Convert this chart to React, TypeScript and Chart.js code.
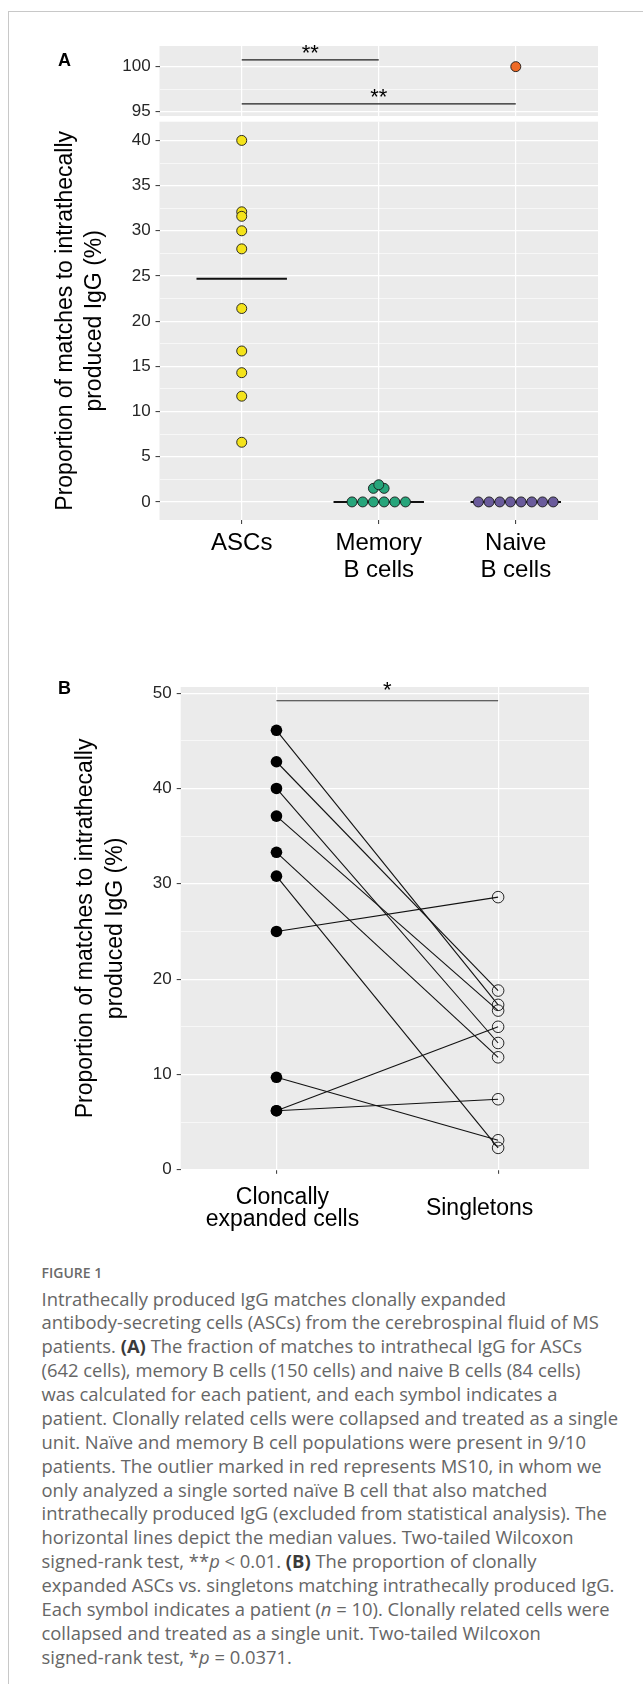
import React, { useEffect, useRef } from 'react';
import { Chart, registerables } from 'chart.js';

Chart.register(...registerables);

const SANS = '"Liberation Sans", Arial, Helvetica, sans-serif';
const CAPTION_FONT = '"Open Sans", "Noto Sans", sans-serif';

// ---------------- Panel A data ----------------
const categoriesA: (string | string[])[] = ['ASCs', ['Memory', 'B cells'], ['Naive', 'B cells']];
const ascValues = [40.0, 32.1, 31.6, 30.0, 28.0, 21.4, 16.7, 14.3, 11.7, 6.6];
const memoryValues = [1.5, 1.5, 1.9, 0, 0, 0, 0, 0, 0];
const naiveValues = [0, 0, 0, 0, 0, 0, 0, 0];
const naiveOutlierValues = [100];
const mediansA = [24.7, 0, 0];
const bracketFromA = [1, 1];
const bracketToA = [2, 3];
const bracketYA = [100.75, 95.85];
const bracketLabelA = ['**', '**'];

// ---------------- Panel B data ----------------
const categoriesB: string[][] = [['Cloncally', 'expanded cells'], ['Singletons']];
const clonalValues = [46.1, 42.8, 40.0, 37.1, 33.3, 30.8, 25.0, 9.7, 6.2, 6.2];
const singletonValues = [17.3, 18.8, 13.3, 16.7, 11.8, 2.3, 28.6, 3.1, 15.0, 7.4];
const bracketYB = 49.2;
const bracketLabelB = '*';

// ---------------- styling ----------------
const YELLOW = '#F4E31B';
const GREEN = '#27A57B';
const PURPLE = '#6A5B9B';
const ORANGE = '#EE6A26';
const OUTLINE = '#1a1a1a';
const TICK_MARK = '#333333';
const TICK_LABEL = '#262626';
const DODGE_STEP = 0.078;
const labelShiftB = [6, -18.5];

function dodge(values: number[], center: number, step: number) {
  return values.map((v, i) => {
    const idx: number[] = [];
    values.forEach((w, j) => {
      if (w === v) idx.push(j);
    });
    const k = idx.indexOf(i);
    return { x: center + (k - (idx.length - 1) / 2) * step, y: v };
  });
}

const panelBackground = {
  id: 'panelBackground',
  beforeDraw(chart: any) {
    const { ctx, chartArea } = chart;
    ctx.save();
    ctx.fillStyle = '#EBEBEB';
    ctx.fillRect(chartArea.left, chartArea.top, chartArea.right - chartArea.left, chartArea.bottom - chartArea.top);
    ctx.restore();
  },
};

function starPlugin(items: { from: number; to: number; y: number; label: string }[], size: number, lift: number) {
  return {
    id: 'stars',
    afterDatasetsDraw(chart: any) {
      const { ctx, scales } = chart;
      ctx.save();
      ctx.font = `${size}px ${SANS}`;
      ctx.fillStyle = '#000';
      ctx.textAlign = 'center';
      ctx.textBaseline = 'alphabetic';
      items.forEach((it) => {
        const x = (scales.x.getPixelForValue(it.from) + scales.x.getPixelForValue(it.to)) / 2;
        const y = scales.y.getPixelForValue(it.y) - lift;
        ctx.fillText(it.label, x, y);
      });
      ctx.restore();
    },
  };
}

const isMult = (v: number, m: number) => Math.abs(v / m - Math.round(v / m)) < 1e-6;

function yAxis(min: number, max: number, step: number, major: number, width: number, pad: number, title?: any) {
  return {
    type: 'linear',
    min,
    max,
    afterFit: (s: any) => {
      s.width = width;
    },
    ticks: {
      stepSize: step,
      includeBounds: false,
      autoSkip: false,
      padding: pad,
      color: TICK_LABEL,
      font: { family: SANS, size: 17 },
      callback: (v: any) => (isMult(Number(v), major) ? String(v) : ''),
    },
    grid: {
      color: '#ffffff',
      lineWidth: (c: any) => (c.tick && isMult(c.tick.value, major) ? 1.2 : 0.6),
      drawTicks: true,
      tickLength: 4,
      tickWidth: 1,
      tickColor: (c: any) => (c.tick && isMult(c.tick.value, major) ? TICK_MARK : 'rgba(0,0,0,0)'),
    },
    border: { display: false },
    title: title || { display: false },
  };
}

const baseOptions = (padding: any, scales: any, plugins: any = {}) => ({
  animation: false,
  responsive: false,
  maintainAspectRatio: false,
  events: [],
  layout: { padding },
  plugins: { legend: { display: false }, tooltip: { enabled: false }, ...plugins },
  scales,
});

const pointStyle = (fill: string, r = 5) => ({
  pointRadius: r,
  pointBackgroundColor: fill,
  pointBorderColor: OUTLINE,
  pointBorderWidth: 0.9,
  showLine: false,
});

export default function App() {
  const refA1 = useRef<HTMLCanvasElement>(null);
  const refA2 = useRef<HTMLCanvasElement>(null);
  const refB = useRef<HTMLCanvasElement>(null);

  useEffect(() => {
    const charts: Chart[] = [];

    // ---------- Panel A, upper (broken axis) ----------
    const bracketsA = bracketYA.map((y, i) => ({ from: bracketFromA[i], to: bracketToA[i], y, label: bracketLabelA[i] }));
    charts.push(
      new Chart(refA1.current as HTMLCanvasElement, {
        type: 'scatter',
        data: {
          datasets: [
            { data: naiveOutlierValues.map((v) => ({ x: 3, y: v })), ...pointStyle(ORANGE) } as any,
            ...bracketsA.map((b) => ({
              data: [
                { x: b.from, y: b.y },
                { x: b.to, y: b.y },
              ],
              showLine: true,
              borderColor: '#1f1f1f',
              borderWidth: 1.1,
              pointRadius: 0,
            })),
          ],
        },
        options: baseOptions(
          { left: 0, right: 45, top: 46, bottom: 20 },
          {
            x: {
              type: 'linear',
              min: 0.4,
              max: 3.6,
              afterFit: (s: any) => {
                s.height = 0;
              },
              ticks: { display: false, stepSize: 1, includeBounds: false },
              grid: { color: '#ffffff', lineWidth: 1.2, drawTicks: false },
              border: { display: false },
            },
            y: yAxis(94.5, 102.3, 2.5, 5, 159.5, 4.8),
          }
        ) as any,
        plugins: [panelBackground, starPlugin(bracketsA, 22, 0)],
      })
    );

    // ---------- Panel A, lower ----------
    charts.push(
      new Chart(refA2.current as HTMLCanvasElement, {
        type: 'scatter',
        data: {
          datasets: [
            { data: dodge(ascValues, 1, DODGE_STEP), ...pointStyle(YELLOW) } as any,
            { data: dodge(memoryValues, 2, DODGE_STEP), ...pointStyle(GREEN) },
            { data: dodge(naiveValues, 3, DODGE_STEP), ...pointStyle(PURPLE) },
            ...mediansA.map((m, i) => ({
              data: [
                { x: i + 1 - 0.33, y: m },
                { x: i + 1 + 0.33, y: m },
              ],
              showLine: true,
              borderColor: '#111111',
              borderWidth: 2,
              pointRadius: 0,
            })),
          ],
        },
        options: baseOptions(
          { left: 0, right: 45, top: 21.7, bottom: 0 },
          {
            x: {
              type: 'linear',
              min: 0.4,
              max: 3.6,
              afterFit: (s: any) => {
                s.height = 80;
              },
              ticks: {
                stepSize: 1,
                includeBounds: false,
                autoSkip: false,
                maxRotation: 0,
                minRotation: 0,
                padding: 5.5,
                color: '#000',
                font: { family: SANS, size: 24, lineHeight: '27px' },
                callback: (v: any) => categoriesA[Math.round(Number(v)) - 1] ?? '',
              },
              grid: { color: '#ffffff', lineWidth: 1.2, drawTicks: true, tickLength: 4, tickColor: TICK_MARK, tickWidth: 1 },
              border: { display: false },
            },
            y: yAxis(-2, 42.07, 2.5, 5, 159.5, 4.8, {
              display: true,
              text: ['Proportion of matches to intrathecally', 'produced IgG (%)'],
              color: '#000',
              font: { family: SANS, size: 23, lineHeight: '29px' },
              padding: { top: 51.5, bottom: 0 },
            }),
          }
        ) as any,
        plugins: [panelBackground],
      })
    );

    // ---------- Panel B ----------
    const xLabelsB = {
      id: 'xLabelsB',
      afterDraw(chart: any) {
        const { ctx, scales, chartArea } = chart;
        ctx.save();
        ctx.font = `23px ${SANS}`;
        ctx.fillStyle = '#000';
        ctx.textAlign = 'center';
        ctx.textBaseline = 'alphabetic';
        categoriesB.forEach((lines, i) => {
          const x = scales.x.getPixelForValue(i + 1) + labelShiftB[i];
          const pitch = 22.7;
          const mid = chartArea.bottom + 45.2 - ((lines.length - 1) * pitch) / 2;
          lines.forEach((t, k) => ctx.fillText(t, x, mid + k * pitch));
        });
        ctx.restore();
      },
    };

    charts.push(
      new Chart(refB.current as HTMLCanvasElement, {
        type: 'scatter',
        data: {
          datasets: [
            {
              data: clonalValues.map((v) => ({ x: 1, y: v })),
              pointRadius: 5.8,
              pointBackgroundColor: '#000',
              pointBorderColor: '#000',
              pointBorderWidth: 0,
              showLine: false,
            } as any,
            {
              data: singletonValues.map((v) => ({ x: 2, y: v })),
              pointRadius: 5.8,
              pointBackgroundColor: 'rgba(0,0,0,0)',
              pointBorderColor: '#111',
              pointBorderWidth: 0.9,
              showLine: false,
            },
            ...clonalValues.map((v, i) => ({
              data: [
                { x: 1, y: v },
                { x: 2, y: singletonValues[i] },
              ],
              showLine: true,
              borderColor: '#111',
              borderWidth: 1.1,
              pointRadius: 0,
            })),
            {
              data: [
                { x: 1, y: bracketYB },
                { x: 2, y: bracketYB },
              ],
              showLine: true,
              borderColor: '#333',
              borderWidth: 1.1,
              pointRadius: 0,
            },
          ],
        },
        options: baseOptions(
          { left: 0, right: 54, top: 87, bottom: 0 },
          {
            x: {
              type: 'linear',
              min: 0.568,
              max: 2.41,
              afterFit: (s: any) => {
                s.height = 90.2;
              },
              ticks: { display: false, stepSize: 1, includeBounds: false },
              grid: { color: '#ffffff', lineWidth: 1.2, drawTicks: true, tickLength: 4, tickColor: TICK_MARK, tickWidth: 1 },
              border: { display: false },
            },
            y: yAxis(0, 50.64, 5, 10, 180.7, 5, {
              display: true,
              text: ['Proportion of matches to intrathecally', 'produced IgG (%)'],
              color: '#000',
              font: { family: SANS, size: 23, lineHeight: '30px' },
              padding: { top: 71, bottom: 0 },
            }),
          }
        ) as any,
        plugins: [panelBackground, starPlugin([{ from: 1, to: 2, y: bracketYB, label: bracketLabelB }], 22, 3.5), xLabelsB],
      })
    );

    return () => charts.forEach((c) => c.destroy());
  }, []);

  const b = { fontWeight: 700, color: '#3a3a3a' } as React.CSSProperties;
  const captionLines: React.ReactNode[] = [
    <>Intrathecally produced IgG matches clonally expanded</>,
    <>antibody-secreting cells (ASCs) from the cerebrospinal fluid of MS</>,
    <>
      patients. <span style={b}>(A)</span> The fraction of matches to intrathecal IgG for ASCs
    </>,
    <>(642 cells), memory B cells (150 cells) and naive B cells (84 cells)</>,
    <>was calculated for each patient, and each symbol indicates a</>,
    <>patient. Clonally related cells were collapsed and treated as a single</>,
    <>unit. Naïve and memory B cell populations were present in 9/10</>,
    <>patients. The outlier marked in red represents MS10, in whom we</>,
    <>only analyzed a single sorted naïve B cell that also matched</>,
    <>intrathecally produced IgG (excluded from statistical analysis). The</>,
    <>horizontal lines depict the median values. Two-tailed Wilcoxon</>,
    <>
      signed-rank test, **<i>p</i> &lt; 0.01. <span style={b}>(B)</span> The proportion of clonally
    </>,
    <>expanded ASCs vs. singletons matching intrathecally produced IgG.</>,
    <>
      Each symbol indicates a patient (<i>n</i> = 10). Clonally related cells were
    </>,
    <>collapsed and treated as a single unit. Two-tailed Wilcoxon</>,
    <>
      signed-rank test, *<i>p</i> = 0.0371.
    </>,
  ];

  return (
    <div style={{ position: 'absolute', left: 0, top: 0, width: 643, height: 1684, background: '#fff', overflow: 'hidden' }}>
      <div
        style={{
          position: 'absolute',
          left: 8,
          top: 11,
          width: 700,
          height: 1700,
          borderLeft: '1px solid #c8c8c8',
          borderTop: '1px solid #c8c8c8',
        }}
      />
      <canvas ref={refA1} width={643} height={136} style={{ position: 'absolute', left: 0, top: 0 }} />
      <canvas ref={refA2} width={643} height={500} style={{ position: 'absolute', left: 0, top: 100 }} />
      <canvas ref={refB} width={643} height={660} style={{ position: 'absolute', left: 0, top: 600 }} />
      <div style={{ position: 'absolute', left: 58, top: 49, font: `bold 18px ${SANS}`, lineHeight: '22px', color: '#000' }}>A</div>
      <div style={{ position: 'absolute', left: 58, top: 677, font: `bold 18px ${SANS}`, lineHeight: '22px', color: '#000' }}>B</div>
      <div
        style={{
          position: 'absolute',
          left: 41.5,
          top: 1263,
          fontFamily: CAPTION_FONT,
          fontSize: 14,
          fontWeight: 600,
          lineHeight: '20px',
          color: '#6a6a6a',
          whiteSpace: 'nowrap',
        }}
      >
        FIGURE 1
      </div>
      <div
        style={{
          position: 'absolute',
          left: 41.5,
          top: 1286.5,
          fontFamily: CAPTION_FONT,
          fontSize: 18.4,
          lineHeight: '23.87px',
          color: '#666666',
          whiteSpace: 'nowrap',
        }}
      >
        {captionLines.map((l, i) => (
          <div key={i}>{l}</div>
        ))}
      </div>
    </div>
  );
}
